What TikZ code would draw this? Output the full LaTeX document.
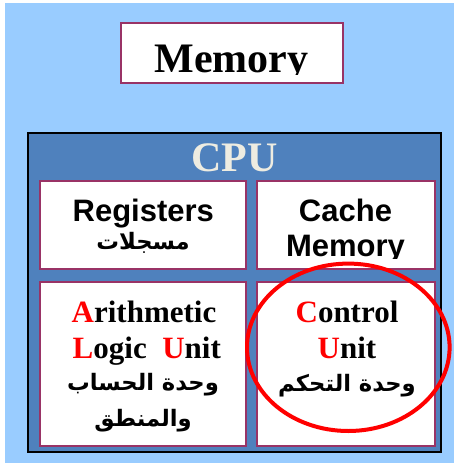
\documentclass[tikz,border=0pt]{standalone}
\usepackage{fontspec}
\usepackage{tikz}
\usepackage{color}
\setmainfont{Liberation Serif}
\newfontfamily\arialfont{Liberation Sans}
\newfontfamily\arabicfont[Script=Arabic]{DejaVu Sans}
\TeXXeTstate=1

\definecolor{skyback}{RGB}{153,204,255}
\definecolor{cpublue}{RGB}{79,129,189}
\definecolor{boxrim}{RGB}{153,51,102}
\definecolor{cpulabel}{RGB}{238,236,225}

\tikzset{
  unitbox/.style={draw=boxrim, line width=1.5, fill=white, inner sep=0pt},
  bigserif/.style={font=\fontsize{31.5}{36}\selectfont\bfseries, inner sep=0pt, anchor=base},
  serif/.style={font=\fontsize{23.25}{27}\selectfont\bfseries, inner sep=0pt, anchor=base},
  sans/.style={font=\arialfont\fontsize{23.25}{27}\selectfont\bfseries, inner sep=0pt, anchor=base},
  arab/.style={font=\arabicfont\fontsize{17}{21}\selectfont\bfseries, inner sep=0pt, anchor=base}
}

\begin{document}
\begin{tikzpicture}[x=0.75pt,y=0.75pt,yscale=-1,xscale=1]
\useasboundingbox (0,0) rectangle (454,463);

%Shape: Rectangle [background]
\fill [color=skyback] (5,3) rectangle (454,463) ;

%Shape: Rectangle [memory]
\node (memory) [unitbox, minimum width={222*0.75pt}, minimum height={60*0.75pt}] at (231.5,53.5) {};
\begin{scope}
\clip (120,23) rectangle (343,74.5) ;
% Text Node
\node (memtext) [bigserif] at (231.5,73) {Memory};
\end{scope}

%Shape: Rectangle [cpu]
\node (cpu) [draw=black, line width=1.5, fill=cpublue, inner sep=0pt, minimum width={413*0.75pt}, minimum height={319*0.75pt}] at (234.75,292.25) {};
% Text Node
\node (cputext) [bigserif, color=cpulabel] at (234.5,172) {CPU};

%Shape: Rectangle [registers]
\node (registers) [unitbox, minimum width={206*0.75pt}, minimum height={88*0.75pt}] at (143,225) {};
% Text Node
\node (regtext) [sans] at (143.3,221.7) {Registers};
% Text Node
\node (regarab) [arab] at (143,249) {\arabicfont\beginR مسجلات\endR};

%Shape: Rectangle [cache]
\node (cache) [unitbox, minimum width={178*0.75pt}, minimum height={88*0.75pt}] at (346,225) {};
% Text Node
\node (cachetext) [sans] at (345.5,221.7) {Cache};
\begin{scope}
\clip (257,230) rectangle (435,258) ;
% Text Node
\node (cachemem) [sans] at (345.5,256.7) {Memory};
\end{scope}

%Shape: Rectangle [alu]
\node (alu) [unitbox, minimum width={206*0.75pt}, minimum height={164*0.75pt}] at (143,364) {};
% Text Node
\node (alutext) [serif] at (144,322.7) {\textcolor{red}{A}rithmetic};
% Text Node
\node (alulogic) [serif] at (146.8,358.3) {\textcolor{red}{L}ogic\ \ \textcolor{red}{U}nit};
% Text Node
\node (aluarab) [arab] at (143,390) {\arabicfont\beginR وحدة الحساب\endR};
% Text Node
\node (aluarabb) [arab] at (143,426) {\arabicfont\beginR والمنطق\endR};

%Shape: Rectangle [control]
\node (control) [unitbox, minimum width={178*0.75pt}, minimum height={164*0.75pt}] at (346,364) {};
% Text Node
\node (ctltext) [serif] at (347,322.7) {\textcolor{red}{C}ontrol};
% Text Node
\node (ctlunit) [serif] at (347,358.3) {\textcolor{red}{U}nit};
% Text Node
\node (ctlarab) [arab] at (347,391) {\arabicfont\beginR وحدة التحكم\endR};

%Shape: Ellipse [mark]
\draw [color=red, line width=3] (control.center) ++(2.3,-16.7) circle [x radius=101.3, y radius=83.7] ;

\end{tikzpicture}
\end{document}
